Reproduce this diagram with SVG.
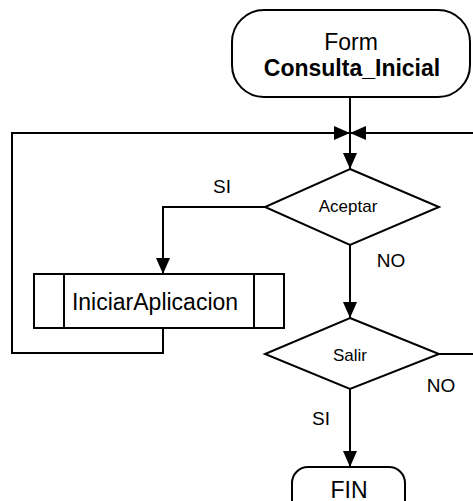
<svg xmlns="http://www.w3.org/2000/svg" width="473" height="501" viewBox="0 0 473 501">
  <style>
    .shape { fill: #ffffff; stroke: #000000; stroke-width: 2; }
    .line { fill: none; stroke: #000000; stroke-width: 2; }
    .txt { font-family: "Liberation Sans", Arial, sans-serif; fill: #000000; text-anchor: middle; }
    .big { font-size: 23px; }
    .bold { font-weight: bold; }
    .small { font-size: 17px; }
    .label { font-size: 19px; }
  </style>
  <defs>
    <marker id="arrow" viewBox="0 0 16 14" refX="16" refY="7" markerWidth="16" markerHeight="14" markerUnits="userSpaceOnUse" orient="auto">
      <path d="M0,0 L16,7 L0,14 Z" fill="#000000"/>
    </marker>
  </defs>

  <!-- connectors -->
  <g id="connectors">
    <!-- start to Aceptar -->
    <path class="line" d="M350,97 V169" marker-end="url(#arrow)"/>
    <!-- loop back from IniciarAplicacion -->
    <path class="line" d="M163,328 V353 H12 V133 H350" marker-end="url(#arrow)"/>
    <!-- loop back from Salir (NO) -->
    <path class="line" d="M439,354 H480 V133 H350" marker-end="url(#arrow)"/>
    <!-- Aceptar SI -->
    <path class="line" d="M265,207 H163 V274" marker-end="url(#arrow)"/>
    <!-- Aceptar NO -->
    <path class="line" d="M350,245 V318" marker-end="url(#arrow)"/>
    <!-- Salir SI -->
    <path class="line" d="M350,389 V467" marker-end="url(#arrow)"/>
    <text class="txt label" x="222" y="193">SI</text>
    <text class="txt label" x="391" y="267">NO</text>
    <text class="txt label" x="441" y="392">NO</text>
    <text class="txt label" x="321" y="425">SI</text>
  </g>

  <g id="inicio">
    <rect class="shape" x="232" y="10" width="238" height="87" rx="32" ry="32"/>
    <text class="txt big" x="351" y="50">Form</text>
    <text class="txt big bold" x="352" y="76">Consulta_Inicial</text>
  </g>

  <g id="aceptar">
    <polygon class="shape" points="350,169 439,207 350,245 265,207"/>
    <text class="txt small" x="348" y="212">Aceptar</text>
  </g>

  <g id="iniciarAplicacion">
    <rect class="shape" x="34" y="274" width="250" height="54"/>
    <line class="line" x1="64" y1="274" x2="64" y2="328"/>
    <line class="line" x1="254" y1="274" x2="254" y2="328"/>
    <text class="txt big" x="155" y="310">IniciarAplicacion</text>
  </g>

  <g id="salir">
    <polygon class="shape" points="350,318 439,354 350,389 265,354"/>
    <text class="txt small" x="350" y="361">Salir</text>
  </g>

  <g id="fin">
    <rect class="shape" x="292" y="467" width="113" height="50" rx="16" ry="16"/>
    <text class="txt big" x="349" y="498">FIN</text>
  </g>
</svg>
